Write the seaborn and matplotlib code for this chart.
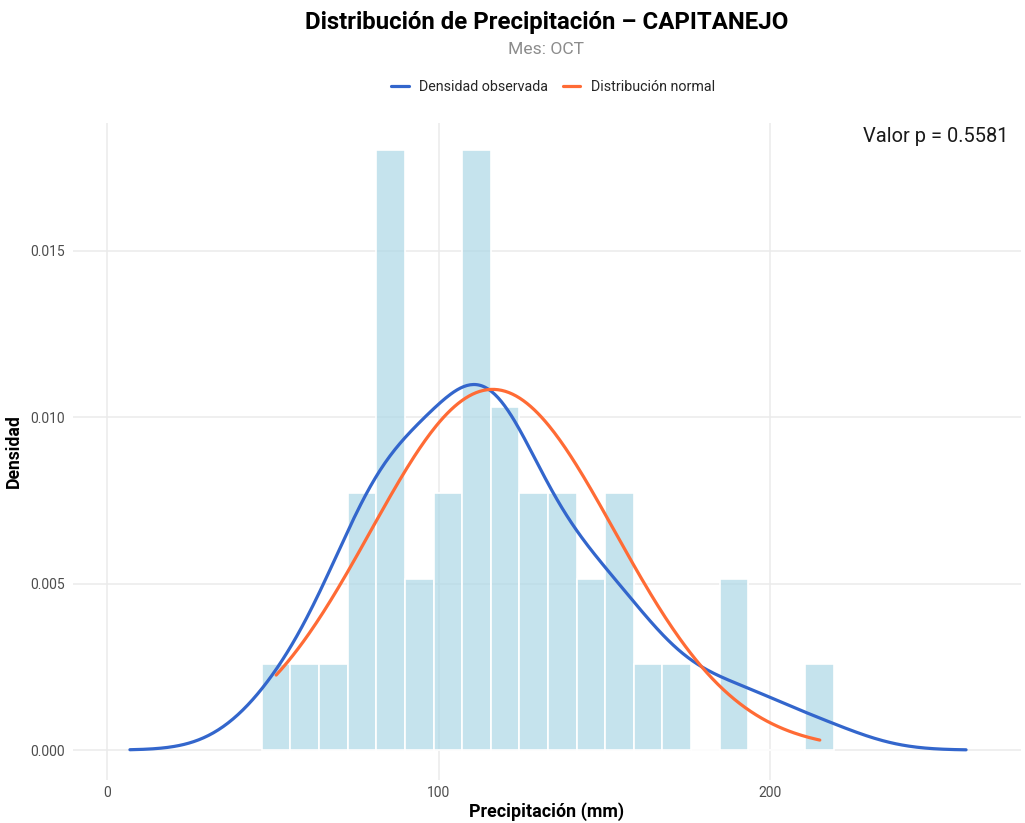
import numpy as np
import pandas as pd
import matplotlib
matplotlib.use("Agg")
import matplotlib.pyplot as plt
from matplotlib.lines import Line2D
import seaborn as sns

# Precipitación mensual de octubre (mm), estación CAPITANEJO (n = 45)
precipitacion = [
    51, 56, 64,
    73, 74, 76,
    82, 83, 84, 85, 86, 87, 88,
    91, 95,
    102, 104, 106,
    109, 110, 111, 112, 113, 114, 115,
    116, 116, 118, 120,
    125, 126, 129,
    136, 138, 140,
    144, 148,
    153, 156, 158,
    166,
    175,
    190, 193,
    215,
]
valor_p = 0.5581
estacion = "CAPITANEJO"
mes = "OCT"
n_bins = 20

titulo = f"Distribución de Precipitación – {estacion}"
subtitulo = f"Mes: {mes}"
etiquetas_leyenda = ["Densidad observada", "Distribución normal"]
xticks = [0, 100, 200]
yticks = [0.000, 0.005, 0.010, 0.015]

col_barras = "#ADD8E6"
col_kde = "#3366CC"
col_normal = "#FF6B35"

sns.set_theme(style="white")
plt.rcParams["font.family"] = ["Roboto", "DejaVu Sans"]

df = pd.DataFrame({"precip": precipitacion})
x = df["precip"].to_numpy(dtype=float)
n = len(x)

# Clases centradas en el mínimo y el máximo (20 clases)
ancho = (x.max() - x.min()) / (n_bins - 1)
bordes = np.linspace(x.min() - ancho / 2, x.max() + ancho / 2, n_bins + 1)

# Ancho de banda tipo nrd0
sd = x.std(ddof=1)
iqr = np.subtract(*np.percentile(x, [75, 25]))
bw = 0.9 * min(sd, iqr / 1.34) * n ** (-0.2)
factor = bw / sd

# Curva normal ajustada
media = x.mean()
xs = np.linspace(x.min(), x.max(), 300)
normal = pd.DataFrame({
    "x": xs,
    "y": np.exp(-0.5 * ((xs - media) / sd) ** 2) / (sd * np.sqrt(2 * np.pi)),
})

fig = plt.figure(figsize=(10.25, 8.23), dpi=100, facecolor="white")
ax = fig.add_axes([73 / 1025, 1 - 780 / 823, 948 / 1025, 657 / 823])
ax.set_facecolor("white")

sns.histplot(data=df, x="precip", bins=bordes, stat="density", color=col_barras,
             alpha=0.7, edgecolor="white", linewidth=1.2, ax=ax, zorder=2)
sns.kdeplot(data=df, x="precip", bw_method=factor, bw_adjust=0.95, cut=3,
            gridsize=512, color=col_kde, linewidth=2.3, ax=ax, zorder=3)
sns.lineplot(data=normal, x="x", y="y", color=col_normal, linewidth=2.3,
             ax=ax, zorder=4)

ax.set_xlim(-10.3, 275.7)
ax.set_ylim(-0.0009, 0.01883)
ax.set_xticks(xticks)
ax.set_xticklabels([f"{t:d}" for t in xticks])
ax.set_yticks(yticks)
ax.set_yticklabels([f"{t:.3f}" for t in yticks])
ax.grid(True, color="#ebebeb", linewidth=1.1, zorder=0)
ax.set_axisbelow(True)
for s in ax.spines.values():
    s.set_visible(False)
ax.tick_params(axis="both", length=0, labelsize=10, colors="#4d4d4d")
ax.tick_params(axis="x", pad=4)
ax.tick_params(axis="y", pad=6)

ax.set_xlabel("Precipitación (mm)", fontsize=12.9, fontweight="bold",
              color="black", labelpad=2)
ax.set_ylabel("Densidad", fontsize=12.7, fontweight="bold", color="black",
              labelpad=5)

ax.text(0.987, 0.979, f"Valor p = {valor_p:.4f}", transform=ax.transAxes,
        ha="right", va="center", fontsize=14.4, color="#1a1a1a")

fig.text(547 / 1025, 1 - 23 / 823, titulo, ha="center", va="center",
         fontsize=17.3, fontweight="bold", color="black")
fig.text(546 / 1025, 1 - 49 / 823, subtitulo, ha="center", va="center",
         fontsize=12.6, color="#8c8c8c")

handles = [Line2D([0], [0], color=col_kde, linewidth=2.3),
           Line2D([0], [0], color=col_normal, linewidth=2.3)]
fig.legend(handles, etiquetas_leyenda, loc="center",
           bbox_to_anchor=(553 / 1025, 1 - 87 / 823), ncol=2, frameon=False,
           fontsize=10.3, handlelength=1.25, handletextpad=0.75,
           columnspacing=1.0)

fig.savefig("out.png", dpi=100, facecolor="white")
